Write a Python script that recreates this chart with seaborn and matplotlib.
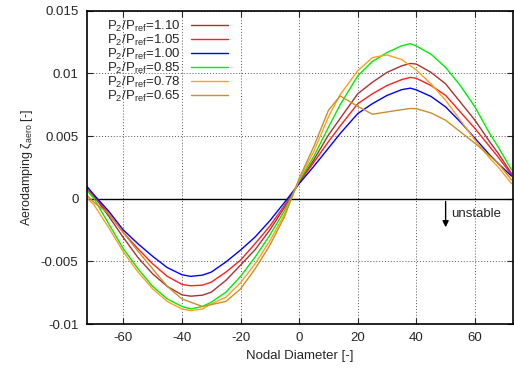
import matplotlib
matplotlib.use("Agg")
import matplotlib.pyplot as plt
import matplotlib.ticker as mticker
import seaborn as sns

# nodal diameter positions
nodal_diameter = [-72.5, -70, -65, -60, -55, -50, -45, -40, -37, -33, -30, -25, -20, -15, -10, -5, 0,
                  5, 10, 14, 20, 25, 30, 35, 38, 40, 45, 50, 55, 60, 65, 68, 72.5]

damp_110 = [0.0008, 0.0002, -0.0014, -0.0031, -0.0047, -0.0060, -0.0070, -0.00767, -0.00778, -0.0077,
            -0.00746, -0.00652, -0.0053, -0.00406, -0.0025, -0.0007, 0.0013,
            0.0031, 0.00508, 0.0064, 0.00837, 0.00929, 0.01008, 0.0106, 0.01079, 0.01074,
            0.01008, 0.00916, 0.00771, 0.00626, 0.00455, 0.0036, 0.0020]
damp_105 = [0.0008, 0.0002, -0.0012, -0.0027, -0.0040, -0.0052, -0.0062, -0.00684, -0.00695, -0.0069,
            -0.00666, -0.00586, -0.0049, -0.00358, -0.00219, -0.00053, 0.0013,
            0.0029, 0.00455, 0.0058, 0.00758, 0.00837, 0.00903, 0.0095, 0.00968, 0.0096,
            0.00903, 0.00824, 0.00692, 0.0056, 0.00416, 0.0033, 0.0019]
damp_100 = [0.0010, 0.0003, -0.0010, -0.0025, -0.0036, -0.0046, -0.0055, -0.00607, -0.0062, -0.0061,
            -0.00586, -0.00505, -0.0041, -0.00305, -0.00176, -0.0003, 0.0012,
            0.00258, 0.00403, 0.0052, 0.00679, 0.00758, 0.00824, 0.0087, 0.00882, 0.00868,
            0.00816, 0.00732, 0.00613, 0.00482, 0.0035, 0.0028, 0.0018]
damp_085 = [0.0007, 0.0000, -0.0020, -0.0040, -0.0056, -0.0070, -0.0080, -0.0086, -0.0088, -0.0086,
            -0.00826, -0.00746, -0.0062, -0.00465, -0.00291, -0.00096, 0.0014,
            0.00337, 0.0057, 0.0075, 0.0098, 0.01095, 0.01166, 0.0122, 0.01237, 0.01218,
            0.01153, 0.01047, 0.00903, 0.00732, 0.00521, 0.0041, 0.0023]
damp_078 = [0.0001, -0.0005, -0.0023, -0.00425, -0.00585, -0.0072, -0.0082, -0.0088, -0.00893, -0.0088,
            -0.0084, -0.00786, -0.0067, -0.00519, -0.00337, -0.00123, 0.0015,
            0.00376, 0.00653, 0.0083, 0.01021, 0.01126, 0.01147, 0.0111, 0.0106, 0.01026,
            0.00916, 0.00784, 0.00626, 0.00468, 0.00324, 0.0025, 0.0012]
damp_065 = [0.0003, -0.0003, -0.0012, -0.0027, -0.0042, -0.0056, -0.0070, -0.0080, -0.00826, -0.0086,
            -0.00845, -0.0082, -0.0072, -0.00559, -0.00372, -0.00144, 0.0016,
            0.00416, 0.00705, 0.0082, 0.00737, 0.00674, 0.00692, 0.0071, 0.0072, 0.00718,
            0.00684, 0.00626, 0.00534, 0.00442, 0.00342, 0.0028, 0.0015]

ratios = ["1.10", "1.05", "1.00", "0.85", "0.78", "0.65"]
series = [damp_110, damp_105, damp_100, damp_085, damp_078, damp_065]
colors = ["#a83232", "#ff2020", "#0000ff", "#00ee00", "#ffa020", "#c8902a"]

sns.set_style("ticks")
plt.rcParams["font.family"] = ["Liberation Sans", "DejaVu Sans"]
plt.rcParams["mathtext.fontset"] = "custom"
plt.rcParams["mathtext.rm"] = "Liberation Sans"
plt.rcParams["mathtext.it"] = "Liberation Sans:italic"
plt.rcParams["axes.unicode_minus"] = False

fig = plt.figure(figsize=(5.14, 3.70), dpi=100)
ax = fig.add_axes([0.1687, 0.1243, 0.8294, 0.8468])

for r, vals, c in zip(ratios, series, colors):
    sns.lineplot(x=nodal_diameter, y=vals, color=c, lw=1.0, ax=ax,
                 label=f"P$_2$/P$_{{\\rm ref}}$={r}", sort=False)

ax.axhline(0, color="black", lw=1.0, zorder=1)
ax.grid(True, color="#555555", linestyle=(0, (1, 2)), lw=0.7)

ax.set_xlim(-72.5, 73)
ax.set_ylim(-0.01, 0.015)
ax.set_xticks([-60, -40, -20, 0, 20, 40, 60])
ax.set_yticks([-0.01, -0.005, 0, 0.005, 0.01, 0.015])
ax.yaxis.set_major_formatter(mticker.FuncFormatter(lambda v, p: f"{v:g}"))
ax.tick_params(direction="in", length=4, width=0.8, top=True, right=True, labelsize=9.5, pad=6)
for s in ax.spines.values():
    s.set_linewidth(1.2)
    s.set_color("black")

ax.set_xlabel("Nodal Diameter [-]", fontsize=9.5)
ax.set_ylabel("Aerodamping ζ$_{\\rm aero}$ [-]", fontsize=9, labelpad=4)

ax.annotate("", xy=(50, -0.0025), xytext=(50, 0),
            arrowprops=dict(arrowstyle="-|>", color="black", lw=1.0, mutation_scale=9))
ax.text(52, -0.0012, "unstable", fontsize=9.5, va="center", ha="left")

ax.legend(loc="upper left", bbox_to_anchor=(0.03, 1.0), frameon=False, markerfirst=False,
          fontsize=9.5, labelspacing=-0.08, handlelength=2.8, handletextpad=0.8, borderaxespad=0.2)

plt.savefig("out.png", dpi=100)
plt.close()
